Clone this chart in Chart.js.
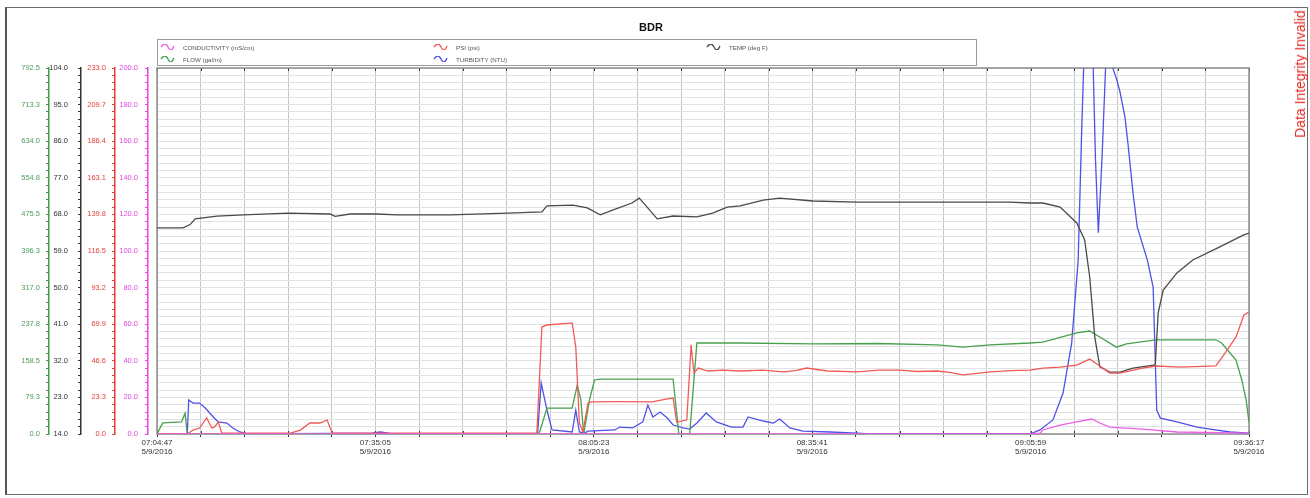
<!DOCTYPE html>
<html>
<head>
<meta charset="utf-8">
<title>BDR</title>
<script src="https://cdn.jsdelivr.net/npm/chart.js@4.4.1/dist/chart.umd.min.js"></script>
<style>
  html, body { margin: 0; padding: 0; background: #fff; }
  #wrap { position: relative; width: 1310px; height: 498px; overflow: hidden;
          font-family: "Liberation Sans", Arial, sans-serif; }
  #frame { position: absolute; left: 5px; top: 7px; width: 1303px; height: 488px;
           border: 1.5px solid #6b6b6b; border-left: 2px solid #555; box-sizing: border-box; }
  #chart { position: absolute; left: 0; top: 0; }
  #title { position: absolute; left: 0; top: 21px; width: 1302px; text-align: center;
           font-weight: bold; font-size: 11px; color: #111; }
  #legend { position: absolute; left: 157px; top: 39px; width: 820px; height: 27px;
            border: 1px solid #9a9a9a; box-sizing: border-box; }
  .item { position: absolute; height: 10px; display: flex; align-items: center;
          font-size: 6.2px; color: #555; white-space: nowrap; }
  .item svg { margin-right: 8px; }
  #flag { position: absolute; left: 1300px; top: 74px; transform: translate(-50%, -50%) rotate(-90deg);
          white-space: nowrap; color: #e42a24; font-size: 14px;
          font-family: "Liberation Sans", Arial, sans-serif; }
</style>
</head>
<body>
<div id="wrap">
  <div id="frame"></div>
  <canvas id="chart" width="1310" height="498"></canvas>
  <div id="title">BDR</div>
  <div id="legend"></div>
  <div id="flag">Data Integrity Invalid</div>
</div>
<script>
// Time axis: clock labels every 30:18 starting 07:04:47 on 5/9/2016
const timeLabels = ['07:04:47', '07:35:05', '08:05:23', '08:35:41', '09:05:59', '09:36:17'];
const dateLabel = '5/9/2016';

// Left axis tick labels (outermost first)
const flowTicks = ['0.0', '79.3', '158.5', '237.8', '317.0', '396.3', '475.5', '554.8', '634.0', '713.3', '792.5'];
const tempTicks = ['14.0', '23.0', '32.0', '41.0', '50.0', '59.0', '68.0', '77.0', '86.0', '95.0', '104.0'];
const psiTicks  = ['0.0', '23.3', '46.6', '69.9', '93.2', '116.5', '139.8', '163.1', '186.4', '209.7', '233.0'];
const condTicks = ['0.0', '20.0', '40.0', '60.0', '80.0', '100.0', '120.0', '140.0', '160.0', '180.0', '200.0'];

// Series: sample times in minutes after 07:04:47, and readings
const condTime = [0, 121.1, 122.5, 122.9, 125.3, 127.6, 129.7, 130.8, 132.2, 136.7, 141.5, 151.5];
const condVals = [0, 0, 0.5, 2.2, 4.9, 6.6, 8.2, 6.0, 3.8, 2.7, 1.1, 0.5];

const psiTime = [0, 4.2, 5.0, 5.9, 6.9, 7.6, 8.0, 8.5, 9.0, 18.5, 19.9, 21.2, 22.6, 23.6, 24.3,
  52.7, 53.4, 54.1, 57.6, 58.1, 58.6, 59.1, 59.8, 60.2, 64.0, 68.7, 70.8, 71.6, 72.1, 73.5, 74.1, 74.5, 75.1,
  76.4, 78.5, 80.9, 84.0, 86.9, 88.6, 90.1, 93.0, 97.1, 100.2, 103.0, 105.5, 108.2, 110.0, 111.8, 113.5, 115.6,
  118.5, 121.1, 122.9, 125.3, 127.6, 129.4, 130.8, 132.2, 133.6, 136.7, 138.6, 142.0, 146.9, 148.2, 149.7, 150.8, 151.5];
const psiVals = [0, 0, 2.5, 3.8, 10.2, 3.8, 4.5, 7.6, 0.5, 0.5, 2.5, 7.0, 7.0, 8.9, 0.5,
  0.5, 68.1, 69.4, 70.7, 55.4, 7.0, 1.3, 19.7, 20.4, 20.6, 20.4, 22.3, 22.9, 7.6, 8.9, 56.7, 38.8, 42.0,
  40.1, 40.7, 40.1, 40.7, 39.5, 40.4, 42.0, 40.1, 39.5, 40.7, 40.7, 39.8, 40.1, 39.2, 37.6, 38.5, 39.5,
  40.4, 40.7, 42.0, 42.6, 43.9, 47.7, 43.3, 38.8, 38.8, 42.0, 43.3, 42.6, 43.3, 51.6, 61.8, 75.8, 77.7];

const tempTime = [0, 3.6, 4.6, 5.3, 8.3, 12.0, 18.2, 24.0, 24.7, 26.8, 30.5, 33.3, 40.7, 48.6, 53.4, 54.1,
  57.7, 59.7, 61.5, 63.3, 65.9, 66.9, 68.0, 69.4, 71.6, 74.9, 77.1, 79.1, 80.9, 84.1, 86.4, 91.0, 97.1,
  109.6, 118.3, 121.1, 122.9, 125.3, 127.6, 128.7, 129.4, 130.1, 130.8, 132.2, 133.6, 135.4, 138.5,
  138.9, 139.6, 141.5, 143.7, 147.1, 150.7, 151.5];
const tempVals = [64.7, 64.7, 65.5, 66.9, 67.6, 67.9, 68.3, 68.1, 67.5, 68.1, 68.1, 67.9, 67.9, 68.3, 68.6, 70.1,
  70.3, 69.6, 67.9, 69.1, 70.8, 72.0, 69.8, 66.9, 67.6, 67.4, 68.3, 69.8, 70.1, 71.5, 72.0, 71.3, 71.0,
  71.0, 71.0, 70.8, 70.8, 69.8, 65.9, 61.7, 52.6, 37.9, 30.5, 29.2, 29.2, 30.2, 31.0,
  43.8, 49.4, 53.6, 56.8, 59.7, 62.9, 63.4];

const flowTime = [0, 0.8, 3.4, 3.9, 4.2, 53.0, 54.1, 57.6, 58.3, 58.8, 59.2, 60.0, 60.7, 61.5, 71.6, 72.4,
  73.9, 74.9, 80.9, 91.0, 100.0, 108.2, 111.8, 115.6, 121.1, 122.9, 127.6, 129.4, 130.8, 133.1, 134.5,
  138.6, 146.9, 147.7, 149.7, 150.5, 151.1, 151.5];
const flowVals = [0, 24, 26, 45, 0, 0, 56, 56, 106, 74, 0, 74, 117, 119, 119, 0,
  0, 197, 197, 195, 196, 193, 188, 193, 197, 199, 219, 223, 210, 188, 195,
  204, 204, 197, 160, 117, 74, 26];

const turbTime = [0, 4.2, 4.4, 5.0, 5.9, 6.7, 7.8, 8.5, 9.7, 10.5, 11.5, 12.5, 29.8, 31.0, 32.3,
  52.8, 53.3, 54.1, 54.8, 57.6, 58.1, 58.6, 59.3, 59.8, 63.5, 64.2, 66.0, 67.4, 68.1, 68.8, 69.8, 70.8,
  71.6, 73.0, 73.9, 74.9, 76.2, 77.6, 79.7, 81.3, 82.0, 84.1, 85.5, 86.4, 87.8, 89.6, 93.4, 97.1, 99.0,
  121.1, 122.5, 124.3, 125.7, 126.9, 127.8, 128.3, 128.8, 129.2, 129.7, 130.2, 130.6, 131.1, 131.8,
  132.2, 132.6, 133.2, 133.6, 134.3, 134.7, 135.4, 136.0, 137.4, 138.2, 138.7, 139.2, 141.5, 144.3,
  146.1, 148.9, 151.5];
const turbVals = [0, 0, 18.6, 16.9, 16.9, 14.2, 9.3, 6.6, 6.0, 3.3, 1.1, 0, 0.5, 1.1, 0.3,
  0, 27.9, 13.1, 2.2, 1.1, 13.1, 1.1, 0.5, 1.6, 2.2, 3.8, 3.3, 6.6, 15.8, 9.3, 12.0, 8.7,
  4.9, 3.3, 2.7, 6.0, 11.5, 6.6, 3.8, 3.8, 9.3, 7.1, 6.0, 8.2, 3.3, 1.6, 1.1, 0.5, 0,
  0, 2.2, 7.7, 22.4, 49.7, 95.0, 167.7, 230, 260, 230, 150, 110, 150, 220,
  240, 200, 193, 187, 173, 159, 132, 113, 95, 80.3, 13.1, 8.7, 6.6, 3.8,
  2.7, 1.1, 0.5];

const pairs = (t, v) => t.map((x, i) => ({ x, y: v[i] }));

const toMinutes = s => { const [h, m, sec] = s.split(':').map(Number); return h * 60 + m + sec / 60; };
const spanMin = toMinutes(timeLabels[timeLabels.length - 1]) - toMinutes(timeLabels[0]);
const xDivisions = (timeLabels.length - 1) * 5;

const series = [
  { label: 'CONDUCTIVITY (mS/cm)', color: '#ec5fe8', axis: 'yCond', data: pairs(condTime, condVals) },
  { label: 'PSI (psi)',            color: '#f05a55', axis: 'yPsi',  data: pairs(psiTime, psiVals) },
  { label: 'TEMP (deg F)',         color: '#4a4a4a', axis: 'yTemp', data: pairs(tempTime, tempVals) },
  { label: 'FLOW (gal/m)',         color: '#46a04e', axis: 'yFlow', data: pairs(flowTime, flowVals) },
  { label: 'TURBIDITY (NTU)',      color: '#4f52e6', axis: 'yTurb', data: pairs(turbTime, turbVals) }
];

// One stacked left axis with 50 minor ticks and a label every 5th
function leftAxis(labels, color, labelColor, weight, width, pad, gridOnArea) {
  const min = parseFloat(labels[0]);
  const max = parseFloat(labels[labels.length - 1]);
  return {
    type: 'linear', position: 'left', weight, min, max,
    afterBuildTicks: s => { s.ticks = Array.from({ length: 51 }, (_, i) => ({ value: min + i * (max - min) / 50 })); },
    afterFit: s => { s.width = width; },
    border: { display: true, color, width: 1.5 },
    grid: { drawOnChartArea: gridOnArea, color: '#e2e2e2', lineWidth: 1, tickColor: color, tickLength: 3, tickWidth: 1 },
    ticks: {
      autoSkip: false, padding: pad, color: labelColor,
      font: { size: 7.5, family: '"Liberation Sans", Arial, sans-serif' },
      callback: (v, i) => (i % 5 === 0 ? labels[i / 5] : '')
    }
  };
}

const plotFrame = {
  id: 'plotFrame',
  beforeDatasetsDraw(chart) {
    const { ctx, chartArea: a, scales: { x } } = chart;
    ctx.save();
    ctx.strokeStyle = '#333';
    ctx.lineWidth = 1;
    x.ticks.forEach(t => {
      const px = Math.round(x.getPixelForValue(t.value)) + 0.5;
      ctx.beginPath();
      ctx.moveTo(px, a.top); ctx.lineTo(px, a.top + 3);
      ctx.moveTo(px, a.bottom - 3); ctx.lineTo(px, a.bottom);
      ctx.stroke();
    });
    ctx.strokeStyle = '#8c8c8c';
    ctx.lineWidth = 1.5;
    ctx.strokeRect(a.left, a.top, a.right - a.left, a.bottom - a.top);
    ctx.restore();
  }
};

const chart = new Chart(document.getElementById('chart'), {
  type: 'line',
  data: {
    datasets: series.map(s => ({
      label: s.label, data: s.data, yAxisID: s.axis,
      borderColor: s.color, backgroundColor: s.color,
      borderWidth: 1.3, pointRadius: 0, tension: 0, fill: false
    }))
  },
  options: {
    responsive: false,
    animation: false,
    layout: { padding: { left: 0, right: 61, top: 68, bottom: 34 } },
    plugins: { legend: { display: false }, title: { display: false }, tooltip: { enabled: false } },
    scales: {
      x: {
        type: 'linear', min: 0, max: spanMin,
        afterBuildTicks: s => { s.ticks = Array.from({ length: xDivisions + 1 }, (_, i) => ({ value: i * spanMin / xDivisions })); },
        afterFit: s => { s.height = 30; },
        border: { display: false },
        grid: { color: '#c6c6c6', lineWidth: 1, tickColor: '#333', tickLength: 3 },
        ticks: {
          autoSkip: false, maxRotation: 0, minRotation: 0, padding: 1, color: '#333',
          font: { size: 8, family: '"Liberation Sans", Arial, sans-serif', lineHeight: 1.15 },
          callback: (v, i) => (i % 5 === 0 ? [timeLabels[i / 5], dateLabel] : '')
        }
      },
      yFlow: leftAxis(flowTicks, '#3f9a4a', '#4f9c5c', 5, 49, 6, false),
      yTemp: leftAxis(tempTicks, '#333333', '#333333', 4, 32, 10, false),
      yPsi:  leftAxis(psiTicks,  '#e83a3a', '#e8403a', 3, 34, 6, false),
      yCond: leftAxis(condTicks, '#e245e2', '#e245e2', 2, 33, 7, true),
      yTurb: {
        type: 'linear', position: 'left', weight: 1, min: 0, max: 200,
        afterFit: s => { s.width = 9; },
        border: { display: false }, grid: { display: false }, ticks: { display: false }
      }
    }
  },
  plugins: [plotFrame]
});

// Legend: three columns, filled row by row
const legend = document.getElementById('legend');
series.forEach((s, i) => {
  const el = document.createElement('div');
  el.className = 'item';
  el.style.left = (2 + (i % 3) * 273) + 'px';
  el.style.top = (2 + Math.floor(i / 3) * 12) + 'px';
  el.innerHTML = '<svg width="15" height="6" viewBox="0 0 15 6"><path d="M1 3 C4 -1 6 -1 8 3 S12 7 14 2" fill="none" stroke="' +
    s.color + '" stroke-width="1.3"/></svg>' + s.label;
  legend.appendChild(el);
});
</script>
</body>
</html>
